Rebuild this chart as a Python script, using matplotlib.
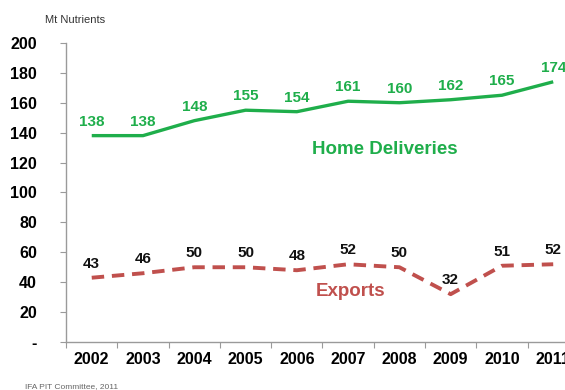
import numpy as np
import matplotlib.pyplot as plt

plt.rcParams["font.family"] = ["Liberation Sans", "DejaVu Sans"]

years = ["2002", "2003", "2004", "2005", "2006", "2007", "2008", "2009", "2010", "2011"]
home_deliveries = [138, 138, 148, 155, 154, 161, 160, 162, 165, 174]
exports = [43, 46, 50, 50, 48, 52, 50, 32, 51, 52]
y_ticks = [0, 20, 40, 60, 80, 100, 120, 140, 160, 180, 200]
y_labels = ["-", "20", "40", "60", "80", "100", "120", "140", "160", "180", "200"]

GREEN = "#1fae4b"
RED = "#c0504d"
AXIS = "#9a9a9a"

x = np.arange(len(years))

fig = plt.figure(figsize=(5.65, 3.9), dpi=100)
ax = fig.add_axes([0.117, 0.123, 0.883, 0.767])

ax.plot(x, home_deliveries, color=GREEN, linewidth=2.4, solid_capstyle="butt")
ax.plot(x, exports, color=RED, linewidth=2.8, linestyle=(0, (3.2, 2.0)),
        dash_capstyle="butt")

for xi, v in zip(x, home_deliveries):
    ax.annotate(str(v), (xi, v), xytext=(0, 5), textcoords="offset points",
                ha="center", va="bottom", color=GREEN, fontsize=11,
                fontweight="bold")
for xi, v in zip(x, exports):
    ax.annotate(str(v), (xi, v), xytext=(0, 5), textcoords="offset points",
                ha="center", va="bottom", color="#111111", fontsize=11,
                fontweight="bold")

ax.text(4.3, 129, "Home Deliveries", color=GREEN, fontsize=13.5,
        fontweight="bold", va="center")
ax.text(4.37, 34, "Exports", color=RED, fontsize=13.5, fontweight="bold",
        va="center")

ax.set_xlim(-0.5, 9.23)
ax.set_ylim(0, 200)

for side in ("top", "right"):
    ax.spines[side].set_visible(False)
for side in ("left", "bottom"):
    ax.spines[side].set_color(AXIS)
    ax.spines[side].set_linewidth(1.0)

ax.set_yticks(y_ticks)
ax.set_yticklabels(y_labels, fontsize=11.5, fontweight="bold")
ax.tick_params(axis="y", length=4, width=0.8, color=AXIS, pad=17,
               direction="out")

# category labels sit at the centres, tick marks at the boundaries
ax.set_xticks(x)
ax.set_xticklabels(years, fontsize=11.5, fontweight="bold")
ax.set_xticks(np.arange(len(years)) - 0.5, minor=True)
ax.tick_params(axis="x", which="major", length=0, pad=7)
ax.tick_params(axis="x", which="minor", length=4, width=0.8, color=AXIS)

fig.text(0.08, 0.948, "Mt Nutrients", fontsize=8, color="#333333",
         ha="left", va="center")
fig.text(0.044, 0.008, "IFA PIT Committee, 2011", fontsize=6,
         color="#666666", ha="left", va="center")

fig.savefig("out.png", dpi=100)
